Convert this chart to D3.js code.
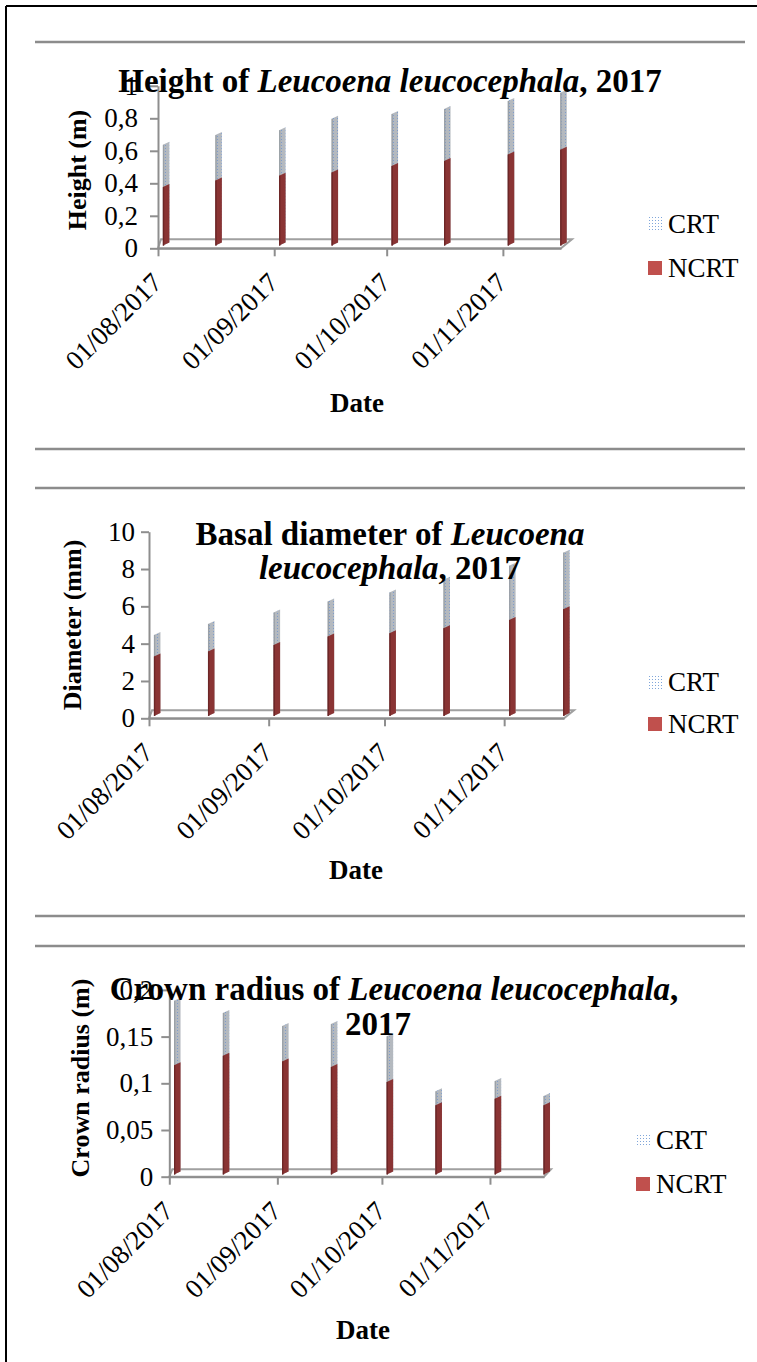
<!DOCTYPE html>
<html>
<head>
<meta charset="utf-8">
<script src="https://cdn.jsdelivr.net/npm/d3@7"></script>
<style>
  html, body { margin: 0; padding: 0; background: #fff; }
  svg { display: block; }
  text { font-family: "Liberation Serif", "Times New Roman", serif; fill: #000; }
</style>
</head>
<body>
<script>
// ---------------- data ----------------
const dates = ["2017-08-01","2017-08-15","2017-09-01","2017-09-15","2017-10-01","2017-10-15","2017-11-01","2017-11-15"];
const seriesNames = ["CRT", "NCRT"];
const heightCRT  = [0.62, 0.68, 0.71, 0.78, 0.81, 0.84, 0.89, 0.94];
const heightNCRT = [0.36, 0.40, 0.43, 0.45, 0.49, 0.52, 0.56, 0.59];
const diameterCRT  = [4.34, 4.93, 5.54, 6.13, 6.61, 7.29, 8.04, 8.75];
const diameterNCRT = [3.18, 3.45, 3.80, 4.25, 4.43, 4.70, 5.14, 5.72];
const crownCRT  = [0.186, 0.173, 0.159, 0.161, 0.148, 0.089, 0.100, 0.084];
const crownNCRT = [0.117, 0.127, 0.121, 0.115, 0.099, 0.074, 0.081, 0.074];
const xTickDates  = ["2017-08-01","2017-09-01","2017-10-01","2017-11-01"];
const xTickLabels = ["01/08/2017","01/09/2017","01/10/2017","01/11/2017"];
const heightTicks   = [0, 0.2, 0.4, 0.6, 0.8, 1];
const diameterTicks = [0, 2, 4, 6, 8, 10];
const crownTicks    = [0, 0.05, 0.1, 0.15, 0.2];
const xTitle = "Date";

// ---------------- setup ----------------
const W = 757, H = 1362;
const parse = d3.timeParse("%Y-%m-%d");
const commaFmt = d => String(d).replace(".", ",");
const svg = d3.select("body").append("svg").attr("width", W).attr("height", H);

const defs = svg.append("defs");
const pb = defs.append("pattern").attr("id", "crtBar").attr("width", 4).attr("height", 3)
  .attr("patternUnits", "userSpaceOnUse");
pb.append("rect").attr("width", 4).attr("height", 3).attr("fill", "#b4b9bf");
pb.append("rect").attr("x", 1).attr("y", 1).attr("width", 1).attr("height", 1).attr("fill", "#7f9cca");
const pl = defs.append("pattern").attr("id", "crtLeg").attr("width", 3).attr("height", 3)
  .attr("patternUnits", "userSpaceOnUse");
pl.append("rect").attr("width", 3).attr("height", 3).attr("fill", "#fff");
pl.append("rect").attr("x", 1).attr("y", 1).attr("width", 1).attr("height", 1).attr("fill", "#80a6da");

// frame
svg.append("line").attr("x1", 6).attr("x2", W).attr("y1", 6).attr("y2", 6).attr("stroke", "#000").attr("stroke-width", 2);
svg.append("line").attr("x1", 6).attr("x2", 6).attr("y1", 6).attr("y2", H).attr("stroke", "#000").attr("stroke-width", 2);
// separators
[42, 449, 488, 916, 946].forEach(yy => {
  svg.append("line").attr("x1", 35).attr("x2", 745).attr("y1", yy).attr("y2", yy)
    .attr("stroke", "#8c8c8c").attr("stroke-width", 2.5);
});

const AXC = "#8e8e8e";

function drawChart(cfg) {
  const g = svg.append("g");
  const x = d3.scaleTime()
    .domain([new Date(2017, 7, 1), new Date(2017, 10, 16, 12)])
    .range(cfg.xRange);
  const y = d3.scaleLinear().domain([0, cfg.ticks[cfg.ticks.length - 1]]).range(cfg.yRange);
  const [x0, x1] = cfg.xRange;
  const y0 = cfg.yRange[0];
  const [dx, dy] = cfg.depth;

  // floor (3D base)
  g.append("path")
    .attr("d", `M${x0},${y0}L${x1},${y0}L${x1 + dx},${y0 + dy}L${x0 + 3},${y0 + dy}Z`)
    .attr("fill", "#fff").attr("stroke", "#a0a0a0").attr("stroke-width", 2);

  // y axis
  const ya = d3.axisLeft(y).tickValues(cfg.ticks).tickSize(8).tickSizeOuter(0)
    .tickPadding(cfg.pad).tickFormat(commaFmt);
  const gy = g.append("g").attr("transform", `translate(${x0},0)`).call(ya);
  gy.select(".domain").attr("stroke", AXC).attr("stroke-width", 2);
  gy.selectAll(".tick line").attr("stroke", AXC).attr("stroke-width", 2);
  gy.selectAll(".tick text").attr("font-size", 27).attr("font-family", "Liberation Serif").attr("fill", "#000");

  // x axis (ticks and labels)
  const xa = d3.axisBottom(x).tickValues(xTickDates.map(parse)).tickSize(8).tickSizeOuter(0)
    .tickFormat((d, i) => xTickLabels[i]);
  const gx = g.append("g").attr("transform", `translate(0,${y0})`).call(xa);
  gx.select(".domain").attr("stroke", AXC).attr("stroke-width", 2);
  gx.selectAll(".tick line").attr("stroke", AXC).attr("stroke-width", 2);
  gx.selectAll(".tick text")
    .attr("font-size", 27).attr("font-family", "Liberation Serif").attr("fill", "#000")
    .attr("text-anchor", "end").attr("x", 0).attr("y", 0).attr("dy", 0)
    .attr("transform", "translate(5,36) rotate(-45)");

  // bars
  const bw = 6.5, slant = 3;
  const base = y0 + dy * 0.3;
  const half = 12 * 3600 * 1000;
  cfg.crt.forEach((vc, i) => {
    const d = parse(dates[i]);
    const L = x(new Date(+d + half)) + 3;
    const hc = y0 - y(vc);
    const hn = y0 - y(cfg.ncrt[i]);
    const poly = (h) => `M${L},${base}L${L + bw},${base - slant}L${L + bw},${base - slant - h}L${L},${base - h}Z`;
    g.append("path").attr("d", poly(hc)).attr("fill", "url(#crtBar)");
    g.append("rect").attr("x", L).attr("y", base - hc).attr("width", 1.3).attr("height", hc).attr("fill", "#9aa0a6");
    g.append("path").attr("d", poly(hn)).attr("fill", "#8a3434");
    g.append("rect").attr("x", L).attr("y", base - hn).attr("width", 1.3).attr("height", hn).attr("fill", "#6c2626");
  });

  // title
  cfg.title.forEach(line => {
    const tl = g.append("text").attr("font-size", 33).attr("font-weight", "bold")
      .attr("text-anchor", "middle").attr("x", line.x).attr("y", line.y);
    line.parts.forEach(p => {
      tl.append("tspan").attr("font-style", p.i ? "italic" : "normal").text(p.t);
    });
  });

  // y label
  g.append("text").attr("font-size", 26).attr("font-weight", "bold").attr("text-anchor", "middle")
    .attr("transform", `translate(${cfg.yl[0]},${cfg.yl[1]}) rotate(-90)`).text(cfg.ylabel);

  // x title
  g.append("text").attr("font-size", 27).attr("font-weight", "bold").attr("text-anchor", "middle")
    .attr("x", cfg.xt[0]).attr("y", cfg.xt[1]).text(xTitle);

  // legend
  const fills = ["url(#crtLeg)", "#c0504d"];
  seriesNames.forEach((s, k) => {
    const ly = cfg.leg[1][k];
    g.append("rect").attr("x", cfg.leg[0]).attr("y", ly - 7).attr("width", 14).attr("height", 14).attr("fill", fills[k]);
    g.append("text").attr("font-size", 27).attr("x", cfg.leg[0] + 20).attr("y", ly + 9).text(s);
  });
}

drawChart({
  crt: heightCRT, ncrt: heightNCRT, ticks: heightTicks,
  xRange: [158, 561], yRange: [248.3, 85.8], depth: [11, -9], pad: 12,
  title: [{ x: 390, y: 92, parts: [{ t: "Height of " }, { t: "Leucoena leucocephala", i: true }, { t: ", 2017" }] }],
  ylabel: "Height (m)", yl: [86, 170], xt: [357, 412], leg: [648, [224, 268]]
});
drawChart({
  crt: diameterCRT, ncrt: diameterNCRT, ticks: diameterTicks,
  xRange: [149, 564], yRange: [718.3, 531.7], depth: [10, -8], pad: 6,
  title: [
    { x: 390, y: 545, parts: [{ t: "Basal diameter of " }, { t: "Leucoena", i: true }] },
    { x: 390, y: 579, parts: [{ t: "leucocephala", i: true }, { t: ", 2017" }] }
  ],
  ylabel: "Diameter (mm)", yl: [81, 625], xt: [356, 879], leg: [648, [682, 724]]
});
drawChart({
  crt: crownCRT, ncrt: crownNCRT, ticks: crownTicks,
  xRange: [169.3, 544], yRange: [1176.7, 989.9], depth: [7, -7.4], pad: 8,
  title: [
    { x: 394, y: 1000, parts: [{ t: "Crown radius of " }, { t: "Leucoena leucocephala", i: true }, { t: "," }] },
    { x: 378, y: 1035, parts: [{ t: "2017" }] }
  ],
  ylabel: "Crown radius (m)", yl: [89, 1078], xt: [363, 1339], leg: [636, [1140, 1184]]
});
</script>
</body>
</html>
